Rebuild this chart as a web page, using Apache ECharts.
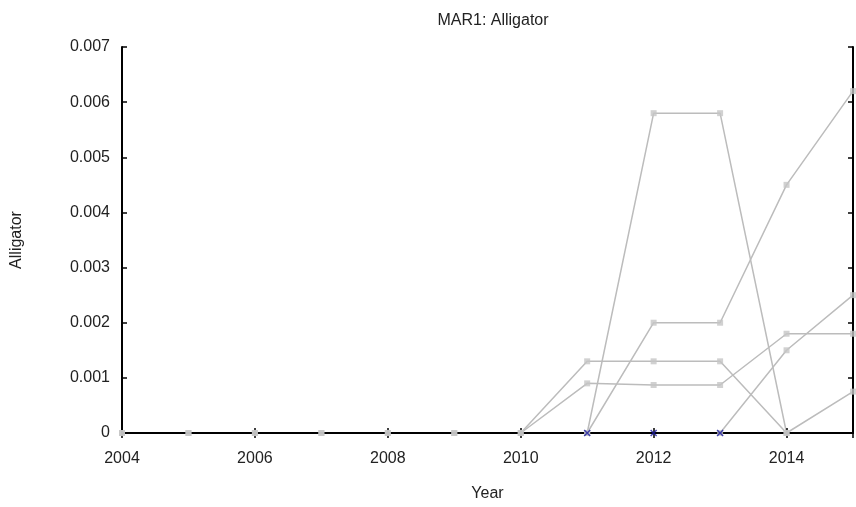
<!DOCTYPE html>
<html><head><meta charset="utf-8">
<script src="https://cdn.jsdelivr.net/npm/echarts@6/dist/echarts.min.js"></script>
<style>html,body{margin:0;padding:0;background:#fff}#c{width:856px;height:507px}</style>
</head><body><div id="c"></div>
<script>
var years = [2004,2005,2006,2007,2008,2009,2010,2011,2012,2013,2014,2015];
var seriesA = [0,0,0,0,0,0,0,0.0013,0.0013,0.0013,0,0.00075];
var seriesB = [0,0,0,0,0,0,0,0.0009,0.00087,0.00087,0.0018,0.0018];
var seriesC = [null,null,null,null,null,null,null,0,0.0058,0.0058,0,null];
var seriesD = [null,null,null,null,null,null,null,0,0.002,0.002,0.0045,0.0062];
var seriesE = [null,null,null,null,null,null,null,null,null,0,0.0015,0.0025];
var blueYears = [2011,2012,2013];
var blueValues = [0,0,0];
var yTicks = ['0','0.001','0.002','0.003','0.004','0.005','0.006','0.007'];

function pairs(v){ var out=[]; for(var i=0;i<years.length;i++){ if(v[i]!==null) out.push([years[i],v[i]]); } return out; }
var FONT = 'Liberation Sans, Arial, sans-serif';
function lineSeries(v){
  return {type:'line', data:pairs(v), symbol:'none',
    lineStyle:{color:'#bcbcbc', width:1.5}, z:3, animation:false};
}
function markSeries(v){
  return {type:'scatter', data:pairs(v), symbol:'rect', symbolSize:6,
    itemStyle:{color:'#c6c6c6'}, z:5, animation:false};
}
var all = [seriesA, seriesB, seriesC, seriesD, seriesE];
var series = all.map(lineSeries).concat(all.map(markSeries));
series.push({type:'scatter', data:blueYears.map(function(y,i){return [y,blueValues[i]];}),
     symbol:'path://M0,0L10,10M10,0L0,10', symbolSize:6,
     itemStyle:{color:'none', borderColor:'#1a1aa0', borderWidth:1.5}, z:6});
var chart = echarts.init(document.getElementById('c'), null, {renderer:'canvas'});
chart.setOption({
  animation:false,
  title:{text:'MAR1: Alligator', left:488, top:8, textAlign:'center',
    textStyle:{fontFamily:FONT, fontSize:16, fontWeight:'normal', color:'#222'}},
  grid:{left:122, right:3, top:47, bottom:74},
  xAxis:[{type:'value', min:2004, max:2015, interval:2, position:'bottom', z:4,
    name:'Year', nameLocation:'middle', nameGap:53,
    nameTextStyle:{fontFamily:FONT, fontSize:16, color:'#222'},
    axisLine:{lineStyle:{color:'#000', width:2}},
    axisTick:{inside:true, length:5, lineStyle:{color:'#000', width:1.5}},
    axisLabel:{fontFamily:FONT, fontSize:16, color:'#222', margin:18, formatter:function(v){return String(v);}, showMaxLabel:false},
    splitLine:{show:false}},
   {type:'value', min:2004, max:2015, interval:2, position:'top', z:4,
    axisLine:{lineStyle:{color:'#000', width:2}},
    axisTick:{inside:true, length:5, lineStyle:{color:'#000', width:1.5}},
    axisLabel:{show:false}, splitLine:{show:false}}],
  yAxis:[{type:'value', min:0, max:0.007, interval:0.001, position:'left', z:4,
    name:'Alligator', nameLocation:'middle', nameGap:97, nameRotate:90,
    nameTextStyle:{fontFamily:FONT, fontSize:16, color:'#222'},
    axisLine:{show:true, lineStyle:{color:'#000', width:2}},
    axisTick:{show:true, inside:true, length:5, lineStyle:{color:'#000', width:1.5}},
    axisLabel:{fontFamily:FONT, fontSize:16, color:'#222', margin:12,
      formatter:function(v){ return yTicks[Math.round(v*1000)]; }},
    splitLine:{show:false}},
   {type:'value', min:0, max:0.007, interval:0.001, position:'right', z:4,
    axisLine:{show:true, lineStyle:{color:'#000', width:2}},
    axisTick:{show:true, inside:true, length:5, lineStyle:{color:'#000', width:1.5}},
    axisLabel:{show:false}, splitLine:{show:false}}],
  series: series
});
</script></body></html>
